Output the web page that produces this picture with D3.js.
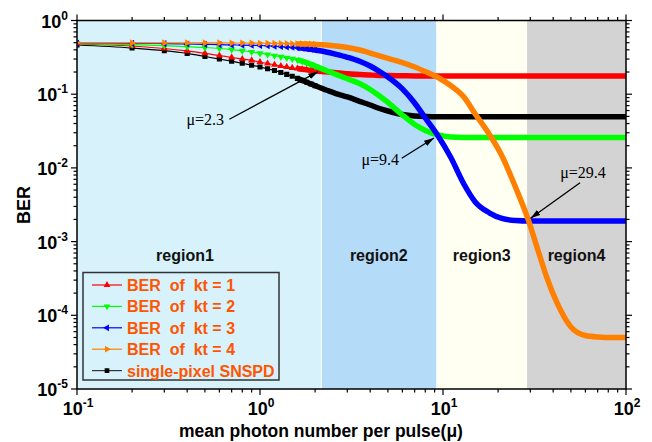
<!DOCTYPE html>
<html>
<head>
<meta charset="utf-8">
<script src="https://cdn.jsdelivr.net/npm/d3@7"></script>
<style>
body{margin:0;background:#fff}
svg{display:block;font-family:'Liberation Sans',Arial,sans-serif}
</style>
</head>
<body>
<div id="chart"></div>
<script>
// mean photon number samples (shared by all curves)
const mu=[0.1,0.2,0.3,0.4,0.5,0.6,0.7,0.8,0.9,1.0,
  1.1,1.2,1.3,1.4,1.5,1.6,1.7,1.8,1.9,2.0,
  2.3,2.6,3,3.5,4,4.5,5,6,7,8,
  9.4,11,13,15,18,21,25,29.4,33,37,
  42,50,60,70,85,100];

const berKt1=[0.480,0.451,0.417,0.386,0.359,0.335,0.315,0.300,0.287,0.273,
  0.261,0.251,0.241,0.234,0.227,0.223,0.218,0.214,0.210,0.207,
  0.201,0.195,0.190,0.185,0.182,0.180,0.179,0.178,0.177,0.177,
  0.177,0.177,0.177,0.177,0.177,0.177,0.177,0.177,0.177,0.177,
  0.177,0.177,0.177,0.177,0.177,0.177];
const berKt2=[0.487,0.471,0.456,0.442,0.430,0.417,0.403,0.388,0.374,0.359,
  0.346,0.333,0.322,0.311,0.301,0.293,0.2805,0.267,0.2537,0.241,
  0.210,0.186,0.162,0.140,0.116,0.0945,0.0772,0.0522,0.0388,0.0322,
  0.0280,0.0263,0.0259,0.0259,0.0259,0.0259,0.0259,0.0259,0.0259,0.0259,
  0.0259,0.0259,0.0259,0.0259,0.0259,0.0259];
const berKt3=[0.495,0.490,0.486,0.480,0.475,0.471,0.466,0.464,0.461,0.458,
  0.454,0.449,0.444,0.438,0.433,0.428,0.422,0.414,0.407,0.398,
  0.374,0.348,0.317,0.280,0.241,0.203,0.171,0.118,0.0760,0.0475,
  0.0271,0.01405,0.00605,0.00345,0.00244,0.00206,0.00193,0.00190,0.00190,0.00190,
  0.00190,0.00190,0.00190,0.00190,0.00190,0.00190];
const berKt4=[0.497,0.497,0.497,0.497,0.497,0.497,0.495,0.495,0.494,0.492,
  0.490,0.489,0.487,0.486,0.484,0.483,0.481,0.480,0.478,0.475,
  0.465,0.451,0.430,0.398,0.362,0.332,0.307,0.269,0.234,0.203,
  0.1685,0.131,0.0917,0.0539,0.0280,0.0145,0.00534,0.00190,0.000769,0.000321,
  0.000147,0.0000694,0.0000532,0.0000508,0.0000500,0.0000500];
const berSingle=[0.465,0.423,0.389,0.357,0.325,0.300,0.280,0.263,0.247,0.234,
  0.221,0.210,0.197,0.186,0.175,0.164,0.154,0.1455,0.1375,0.130,
  0.114,0.102,0.0917,0.0801,0.0714,0.0640,0.0592,0.0530,0.0506,0.0498,
  0.0495,0.0495,0.0495,0.0495,0.0495,0.0495,0.0495,0.0495,0.0495,0.0495,
  0.0495,0.0495,0.0495,0.0495,0.0495,0.0495];

const seriesNames=["BER  of  kt = 1","BER  of  kt = 2","BER  of  kt = 3","BER  of  kt = 4","single-pixel SNSPD"];
const seriesColors=["#ff0000","#00ff00","#0000ff","#ff8000","#000000"];
const seriesMarkers=["up","down","left","right","square"];
const seriesValues=[berKt1,berKt2,berKt3,berKt4,berSingle];
const drawOrder=[4,0,1,2,3];

const regionEdges=[0.1,2.16,9.2,28.8,100];
const regionNames=["region1","region2","region3","region4"];
const regionColors=["#d7f2fb","#b4dbf8","#fffff2","#d3d3d3"];

const xTicksMajor=[-1,0,1,2];
const yTicksMajor=[-5,-4,-3,-2,-1,0];

const annotations=[
  {text:"μ=2.3",anchor:"end",tx:0.636,ty:0.0388,from:[0.68,0.0457],to:[2.08,0.202]},
  {text:"μ=9.4",anchor:"end",tx:5.75,ty:0.01095,from:[5.95,0.0135],to:[8.93,0.0254]},
  {text:"μ=29.4",anchor:"middle",tx:58.2,ty:0.0073,from:[56.1,0.0063],to:[30.1,0.00207]}
];

const W=652,H=442;
const svg=d3.select("#chart").append("svg").attr("width",W).attr("height",H);

const x=d3.scaleLog().domain([0.1,100]).range([77,626]);
const y=d3.scaleLog().domain([1e-5,1]).range([389,20.5]);
const [x0,x1]=x.range(), [y1,y0]=y.range();

// region backgrounds
svg.append("g").selectAll("rect").data(regionNames).join("rect")
  .attr("x",(d,i)=>x(regionEdges[i])).attr("width",(d,i)=>x(regionEdges[i+1])-x(regionEdges[i]))
  .attr("y",y0).attr("height",y1-y0)
  .attr("fill",(d,i)=>regionColors[i]);
svg.append("line").attr("x1",x(regionEdges[1])).attr("x2",x(regionEdges[1]))
  .attr("y1",y0).attr("y2",y1).attr("stroke","#fff").attr("stroke-width",1);

svg.append("g").selectAll("text").data(regionNames).join("text")
  .attr("x",(d,i)=>i==0?185:(x(regionEdges[i])+x(regionEdges[i+1]))/2)
  .attr("y",261).attr("text-anchor","middle")
  .attr("font-size",16).attr("font-weight","bold").attr("fill","#111")
  .text(d=>d);

// curves
const defs=svg.append("defs");
defs.append("clipPath").attr("id","plotclip").append("rect")
  .attr("x",x0).attr("y",y0-4).attr("width",x1-x0).attr("height",y1-y0+4);

function markerPath(kind,size){
  if(kind=="square") return d3.symbol(d3.symbolSquare,size)();
  return d3.symbol(d3.symbolTriangle,size)();
}
const rot={up:0,down:180,left:-90,right:90,square:0};

const line=d3.line().x(d=>x(d[0])).y(d=>y(d[1])).curve(d3.curveMonotoneX);
const plot=svg.append("g").attr("clip-path","url(#plotclip)");

drawOrder.forEach(si=>{
  const pts=mu.map((m,i)=>[m,seriesValues[si][i]]);
  const g=plot.append("g");
  g.append("path").attr("d",line(pts)).attr("fill","none")
    .attr("stroke",seriesColors[si]).attr("stroke-width",1.2);
  g.append("path").attr("d",line(pts.filter(p=>p[0]>=1.6))).attr("fill","none")
    .attr("stroke",seriesColors[si]).attr("stroke-width",5.5);
  const kind=seriesMarkers[si];
  g.selectAll("path.mk").data(pts.filter(p=>p[0]<=2.0)).join("path").attr("class","mk")
    .attr("d",markerPath(kind,kind=="square"?26:22))
    .attr("transform",p=>`translate(${x(p[0])},${y(p[1])}) rotate(${rot[kind]})`)
    .attr("fill",seriesColors[si]);
});

// frame
svg.append("rect").attr("x",x0).attr("y",y0).attr("width",x1-x0).attr("height",y1-y0)
  .attr("fill","none").attr("stroke","#000").attr("stroke-width",1.5);

// ticks
const tk=svg.append("g").attr("stroke","#000").attr("stroke-width",1.2);
const xMinor=[], yMinor=[];
xTicksMajor.slice(0,-1).forEach(e=>d3.range(2,10).forEach(k=>xMinor.push(k*Math.pow(10,e))));
yTicksMajor.slice(0,-1).forEach(e=>d3.range(2,10).forEach(k=>yMinor.push(k*Math.pow(10,e))));
[[xTicksMajor.map(e=>Math.pow(10,e)),6],[xMinor,3.5]].forEach(([vals,len])=>{
  vals.forEach(v=>{
    tk.append("line").attr("x1",x(v)).attr("x2",x(v)).attr("y1",y1).attr("y2",y1+len);
    tk.append("line").attr("x1",x(v)).attr("x2",x(v)).attr("y1",y0).attr("y2",y0-len);
  });
});
[[yTicksMajor.map(e=>Math.pow(10,e)),6],[yMinor,3.5]].forEach(([vals,len])=>{
  vals.forEach(v=>{
    tk.append("line").attr("x1",x0).attr("x2",x0-len).attr("y1",y(v)).attr("y2",y(v));
    tk.append("line").attr("x1",x1).attr("x2",x1+len).attr("y1",y(v)).attr("y2",y(v));
  });
});

function powLabel(px,py,e,anchor){
  const t=svg.append("text").attr("x",px).attr("y",py).attr("text-anchor",anchor)
    .attr("font-size",18).attr("font-weight","bold").attr("fill","#000");
  t.append("tspan").text("10");
  t.append("tspan").attr("dy",-8).attr("font-size",12).text(String(e));
}
xTicksMajor.forEach(e=>powLabel(x(Math.pow(10,e))+1,415,e,"middle"));
yTicksMajor.forEach(e=>powLabel(68,y(Math.pow(10,e))+7,e,"end"));

svg.append("text").attr("x",321).attr("y",437).attr("text-anchor","middle")
  .attr("font-size",17.5).attr("font-weight","bold").text("mean photon number per pulse(μ)");
svg.append("text").attr("transform","translate(30,205) rotate(-90)").attr("text-anchor","middle")
  .attr("font-size",18).attr("font-weight","bold").text("BER");

// annotations
defs.append("marker").attr("id","arr").attr("viewBox","0 0 10 6").attr("refX",10).attr("refY",3)
  .attr("markerWidth",10).attr("markerHeight",6).attr("markerUnits","userSpaceOnUse").attr("orient","auto")
  .append("path").attr("d","M0,0L10,3L0,6z").attr("fill","#000");
annotations.forEach(a=>{
  svg.append("line").attr("x1",x(a.from[0])).attr("y1",y(a.from[1]))
    .attr("x2",x(a.to[0])).attr("y2",y(a.to[1]))
    .attr("stroke","#000").attr("stroke-width",1.3).attr("marker-end","url(#arr)");
  svg.append("text").attr("x",x(a.tx)).attr("y",y(a.ty)).attr("text-anchor",a.anchor)
    .attr("font-family","'Liberation Serif','Times New Roman',serif").attr("font-size",16)
    .text(a.text);
});

// legend
const lg=svg.append("g");
lg.append("rect").attr("x",83).attr("y",272.5).attr("width",196).attr("height",107.5)
  .attr("fill","none").attr("stroke","#333").attr("stroke-width",1.5);
seriesNames.forEach((name,i)=>{
  const cy=285+i*21.4;
  lg.append("line").attr("x1",92).attr("x2",122).attr("y1",cy).attr("y2",cy)
    .attr("stroke",i==4?"#333":seriesColors[i]).attr("stroke-width",1.2);
  const kind=seriesMarkers[i];
  lg.append("path").attr("d",markerPath(kind,kind=="square"?22:20))
    .attr("transform",`translate(107,${cy}) rotate(${rot[kind]})`).attr("fill",i==4?"#000":seriesColors[i]);
  lg.append("text").attr("x",127).attr("y",cy+6).attr("font-size",16).attr("font-weight","bold")
    .attr("fill","#ff5500").style("white-space","pre").text(name);
});
</script>
</body>
</html>
